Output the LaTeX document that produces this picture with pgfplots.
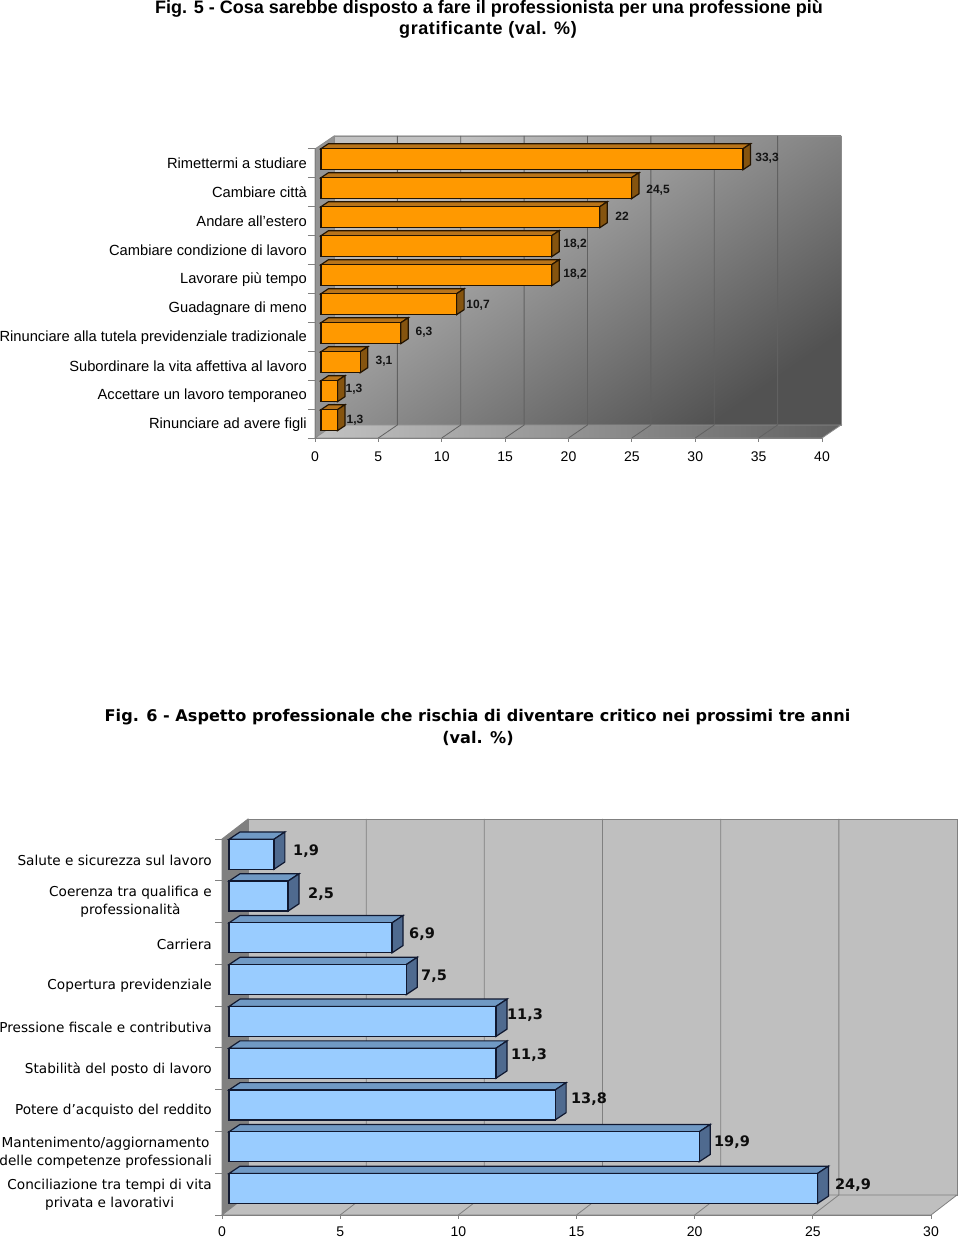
\documentclass[border=0pt]{standalone}
\usepackage{pgfplots}
\usepackage{pgfplotstable}
\usepackage{fontspec}
\pgfplotsset{compat=1.18}
\setmainfont{Liberation Sans}
\newfontfamily\djv{DejaVu Sans}
\pgfplotstableread{
i v
0 1.3
1 1.3
2 3.1
3 6.3
4 10.7
5 18.2
6 18.2
7 22
8 24.5
9 33.3
}\dataA
\pgfplotstableread{
i v
0 24.9
1 19.9
2 13.8
3 11.3
4 11.3
5 7.5
6 6.9
7 2.5
8 1.9
}\dataB
\definecolor{oFront}{HTML}{FF9900}
\definecolor{oTop}{HTML}{B8741A}
\definecolor{oSide}{HTML}{85540F}
\definecolor{oLine}{HTML}{241400}
\definecolor{bFront}{HTML}{99CCFF}
\definecolor{bTop}{HTML}{7099C4}
\definecolor{bSide}{HTML}{4F6A8F}
\definecolor{bLine}{HTML}{101830}
\newcommand\sidetop[2]{%
  \pgfmathsetmacro\xe{#1}%
  \pgfmathsetmacro\xd{#1+\dxv}%
  \pgfmathsetmacro\yt{#2+\hw}%
  \pgfmathsetmacro\yb{#2-\hw}%
  \pgfmathsetmacro\ytd{\yt+\dyv}%
  \pgfmathsetmacro\ybd{\yb+\dyv}%
  \edef\tmp{%
    \noexpand\addplot[barstyle,fill=\topc,forget plot] coordinates {(0,\yt)(\dxv,\ytd)(\xd,\ytd)(\xe,\yt)} -- cycle;
    \noexpand\addplot[barstyle,fill=\sidec,forget plot] coordinates {(\xe,\yt)(\xd,\ytd)(\xd,\ybd)(\xe,\yb)} -- cycle;
  }\tmp}
\begin{document}
\begin{tikzpicture}[x=1pt,y=1pt]
\path[use as bounding box] (0,0) rectangle (960,1238);
\begin{scope}[shift={(0pt,1238pt)},x=1pt,y=-1pt]
% ---------- titles
\node[font=\bfseries\fontsize{18}{20}\selectfont] at (489,9) {Fig. 5 - Cosa sarebbe disposto a fare il professionista per una professione più};
\node[font=\bfseries\fontsize{18}{20}\selectfont] at (488,29.5) {\addfontfeature{LetterSpace=3.3}gratificante (val. \%)};
\node[font=\djv\bfseries\fontsize{16.1}{20}\selectfont] at (477.5,717) {Fig. 6 - Aspetto professionale che rischia di diventare critico nei prossimi tre anni};
\node[font=\djv\bfseries\fontsize{16.1}{20}\selectfont] at (478,738) {(val. \%)};
% ---------- chart 1 walls
\shade[draw=gray!90,line width=0.8pt,top color=white!76!black,bottom color=black!68,shading angle=35] (334,136) rectangle (841,425);
\fill[draw=gray!90,line width=0.8pt,fill=black!42] (315,149) -- (334,136) -- (334,425) -- (315,438) -- cycle;
\shade[draw=gray!90,line width=0.8pt,left color=black!24,right color=black!62] (315,438) -- (822,438) -- (841,425) -- (334,425) -- cycle;
\foreach \k in {1,...,7}{
  \pgfmathsetmacro\xb{334+63.375*\k}
  \pgfmathsetmacro\xf{315+63.375*\k}
  \draw[black!62,line width=0.8pt] (\xb,136) -- (\xb,425) -- (\xf,438);
}
% ---------- chart 2 walls
\fill[draw=black!50,line width=0.8pt,fill=black!25] (248,819) rectangle (957,1195);
\fill[draw=black!50,line width=0.8pt,fill=black!50] (222,839) -- (248,819) -- (248,1195) -- (222,1215) -- cycle;
\fill[draw=black!50,line width=0.8pt,fill=black!25] (222,1215) -- (931,1215) -- (957,1195) -- (248,1195) -- cycle;
\foreach \k in {1,...,5}{
  \pgfmathsetmacro\xb{248+118.17*\k}
  \pgfmathsetmacro\xf{222+118.17*\k}
  \draw[black!50,line width=0.8pt] (\xb,819) -- (\xb,1195) -- (\xf,1215);
}
\end{scope}
% ---------- chart 1
\begin{axis}[
  at={(315pt,800pt)},anchor=south west,scale only axis,width=507pt,height=290pt,
  xmin=0,xmax=40,ymin=-0.5,ymax=9.5,clip=false,
  axis lines=left,axis line style={-,draw=black!50,line width=0.8pt},
  xtick={0,5,...,40},ytick={0,...,9},
  minor ytick={-0.5,0.5,...,9.5},
  yticklabels={Rinunciare ad avere figli,Accettare un lavoro temporaneo,Subordinare la vita affettiva al lavoro,Rinunciare alla tutela previdenziale tradizionale,Guadagnare di meno,Lavorare più tempo,Cambiare condizione di lavoro,Andare all’estero,Cambiare città,Rimettermi a studiare},
  tick align=outside,major tick length=4pt,minor tick length=7pt,
  ytick style={draw=none},xtick style={draw=black!50,line width=0.8pt},minor y tick style={draw=black!50,line width=0.8pt},
  /pgf/number format/assume math mode=true,
  tick label style={font=\fontsize{14.7}{18}\selectfont},
  yticklabel style={inner xsep=0pt,xshift=-4pt,yshift=-1pt},
  xticklabel style={inner ysep=0pt,yshift=-10pt,anchor=north,font=\fontsize{14}{16}\selectfont},
  barstyle/.style={draw=oLine,line width=1.2pt,line join=miter,shift={(6pt,3.3pt)}},
]
\def\dxv{0.59}\def\dyv{0.172}\def\hw{0.362}\def\topc{oTop}\def\sidec{oSide}
\pgfplotsinvokeforeach{0,...,9}{
  \pgfplotstablegetelem{#1}{v}\of\dataA
  \sidetop{\pgfplotsretval}{#1}
}
\addplot[barstyle,xbar,bar width=21pt,fill=oFront] table[x=v,y=i]{\dataA};
\end{axis}
% ---------- chart 2
\begin{axis}[
  at={(222pt,23pt)},anchor=south west,scale only axis,width=709pt,height=376pt,
  xmin=0,xmax=30,ymin=-0.5,ymax=8.5,clip=false,
  axis lines=left,axis line style={-,draw=black!50,line width=0.8pt},
  xtick={0,5,...,30},ytick={0,...,8},
  minor ytick={-0.5,0.5,...,8.5},
  yticklabels={{Conciliazione tra tempi di vita\\privata e lavorativi},{Mantenimento/aggiornamento\\delle competenze professionali},Potere d’acquisto del reddito,Stabilità del posto di lavoro,Pressione fiscale e contributiva,Copertura previdenziale,Carriera,{Coerenza tra qualifica e\\professionalità},Salute e sicurezza sul lavoro},
  tick align=outside,major tick length=4pt,minor tick length=7pt,
  ytick style={draw=none},xtick style={draw=black!50,line width=0.8pt},minor y tick style={draw=black!50,line width=0.8pt},
  /pgf/number format/assume math mode=true,
  yticklabel style={inner xsep=0pt,xshift=-6pt,yshift=-0.5pt,align=center,font=\djv\fontsize{13.65}{18}\selectfont},
  xticklabel style={inner ysep=0pt,yshift=-8pt,anchor=north,font=\fontsize{14}{16}\selectfont},
  barstyle/.style={draw=bLine,line width=1.2pt,line join=miter,shift={(7pt,5.6pt)}},
]
\def\dxv{0.465}\def\dyv{0.175}\def\hw{0.359}\def\topc{bTop}\def\sidec{bSide}
\pgfplotsinvokeforeach{0,...,8}{
  \pgfplotstablegetelem{#1}{v}\of\dataB
  \sidetop{\pgfplotsretval}{#1}
}
\addplot[barstyle,xbar,bar width=30pt,fill=bFront] table[x=v,y=i]{\dataB};
\end{axis}
% ---------- value labels
\begin{scope}[shift={(0pt,1238pt)},x=1pt,y=-1pt]
\foreach \x/\y/\t in {767/158/{33,3},658/190/{24,5},622/216/{22},575/244/{18,2},575/274/{18,2},478/305/{10,7},424/332/{6,3},384/361/{3,1},354/389/{1,3},355/420/{1,3}}{
  \node[font=\bfseries\fontsize{12}{14}\selectfont,text=black!92] at (\x,\y) {\t};
}
\foreach \x/\y/\t in {306/851/{1,9},321/894/{2,5},422/934/{6,9},434/976/{7,5},525/1015/{11,3},529/1055/{11,3},589/1099/{13,8},732/1142/{19,9},853/1185/{24,9}}{
  \node[font=\djv\bfseries\fontsize{14.5}{16}\selectfont,text=black!95] at (\x,\y) {\t};
}
\end{scope}
\end{tikzpicture}
\end{document}
